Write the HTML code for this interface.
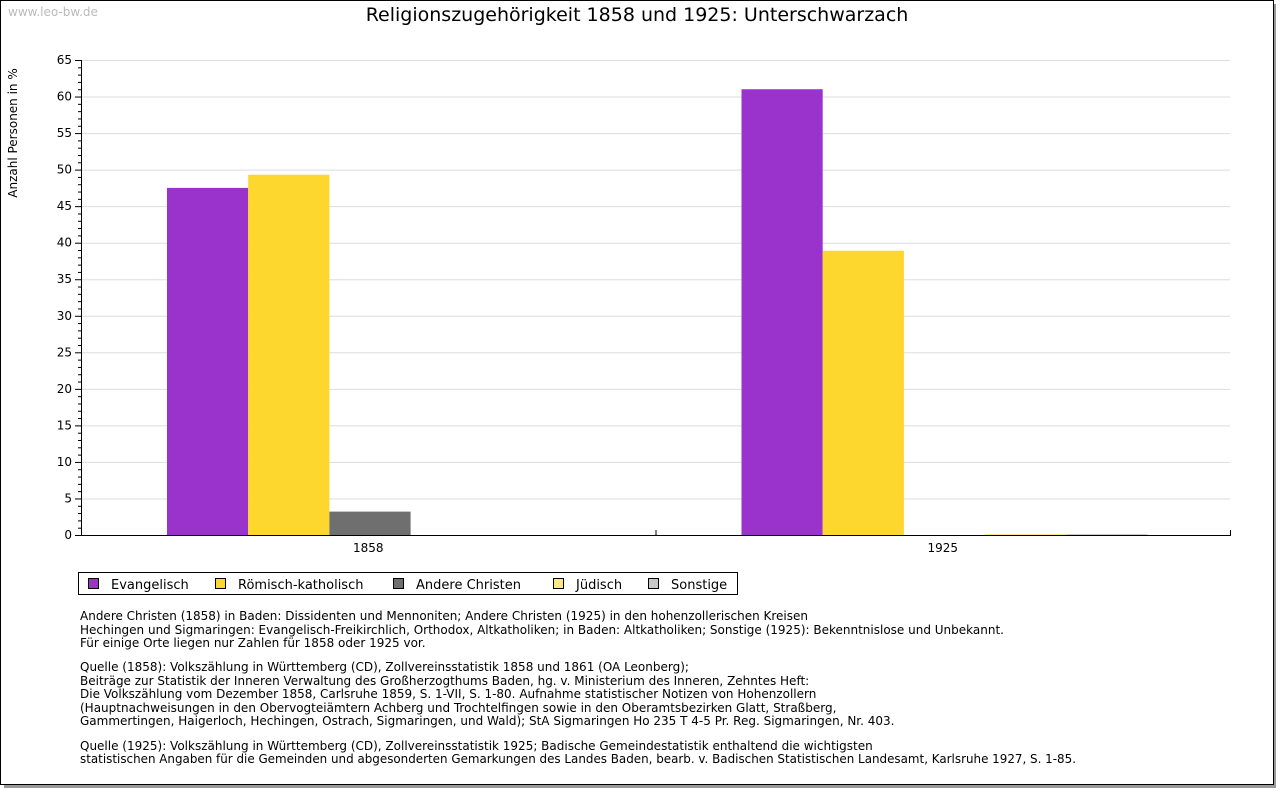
<!DOCTYPE html>
<html><head><meta charset="utf-8"><style>
body{margin:0;background:#fff;}
svg{display:block;font-family:"DejaVu Sans","Liberation Sans",sans-serif;}
</style></head><body>
<svg id="c" width="1280" height="791" xmlns="http://www.w3.org/2000/svg">
<rect x="4" y="4" width="1272" height="784" fill="#999"/>
<rect x="0.5" y="0.5" width="1273" height="784" fill="#fff" stroke="#000"/>
<text x="8" y="16" font-size="12" fill="#bbb">www.leo-bw.de</text>
<text x="637" y="21" font-size="19" text-anchor="middle" fill="#000">Religionszugehörigkeit 1858 und 1925: Unterschwarzach</text>
<text transform="translate(17,133) rotate(-90)" font-size="12" text-anchor="middle">Anzahl Personen in %</text>
<g id="grid"></g><g id="bars"></g><g id="axes"></g>
<g>
<rect x="78.5" y="572.5" width="659" height="22" fill="#fff" stroke="#000"/>
<g id="legend"></g>
</g>
<g font-size="12" fill="#000">
<text x="80" y="620">Andere Christen (1858) in Baden: Dissidenten und Mennoniten; Andere Christen (1925) in den hohenzollerischen Kreisen</text>
<text x="80" y="634">Hechingen und Sigmaringen: Evangelisch-Freikirchlich, Orthodox, Altkatholiken; in Baden: Altkatholiken; Sonstige (1925): Bekenntnislose und Unbekannt.</text>
<text x="80" y="647">Für einige Orte liegen nur Zahlen für 1858 oder 1925 vor.</text>
<text x="80" y="671">Quelle (1858): Volkszählung in Württemberg (CD), Zollvereinsstatistik 1858 und 1861 (OA Leonberg);</text>
<text x="80" y="685">Beiträge zur Statistik der Inneren Verwaltung des Großherzogthums Baden, hg. v. Ministerium des Inneren, Zehntes Heft:</text>
<text x="80" y="698">Die Volkszählung vom Dezember 1858, Carlsruhe 1859, S. 1-VII, S. 1-80. Aufnahme statistischer Notizen von Hohenzollern</text>
<text x="80" y="712">(Hauptnachweisungen in den Obervogteiämtern Achberg und Trochtelfingen sowie in den Oberamtsbezirken Glatt, Straßberg,</text>
<text x="80" y="725">Gammertingen, Haigerloch, Hechingen, Ostrach, Sigmaringen, und Wald); StA Sigmaringen Ho 235 T 4-5 Pr. Reg. Sigmaringen, Nr. 403.</text>
<text x="80" y="750">Quelle (1925): Volkszählung in Württemberg (CD), Zollvereinsstatistik 1925; Badische Gemeindestatistik enthaltend die wichtigsten</text>
<text x="80" y="763" textLength="996" lengthAdjust="spacingAndGlyphs">statistischen Angaben für die Gemeinden und abgesonderten Gemarkungen des Landes Baden, bearb. v. Badischen Statistischen Landesamt, Karlsruhe 1927, S. 1-85.</text>
</g>
</svg>
<script>
const categories=["1858","1925"];
const seriesNames=["Evangelisch","Römisch-katholisch","Andere Christen","Jüdisch","Sonstige"];
const evangelisch=[47.5,61.0];
const katholisch=[49.3,38.9];
const andereChristen=[3.2,0];
const juedisch=[0,0.1];
const sonstige=[0,0.1];
const yTicks=[0,5,10,15,20,25,30,35,40,45,50,55,60,65];
const colors=["#9933cc","#fdd62e","#6f6f6f","#fde68a","#c8c8c8"];
const series=[evangelisch,katholisch,andereChristen,juedisch,sonstige];
const NS="http://www.w3.org/2000/svg";
const X0=81,X1=1230,Y0=535,Y1=60,YMAX=65;
const y=v=>Y0-(v/YMAX)*(Y0-Y1);
const groupW=(X1-X0)/categories.length;
const barW=81.2;
const xBar=(c,s)=>X0+c*groupW+86+s*barW;
function mk(t,a,p){const e=document.createElementNS(NS,t);for(const k in a)e.setAttribute(k,a[k]);p.appendChild(e);return e;}
const grid=document.getElementById('grid'),axes=document.getElementById('axes'),bars=document.getElementById('bars'),leg=document.getElementById('legend');
yTicks.forEach(t=>{
 if(t>0){const l=mk('line',{x1:X0,x2:X1,y1:y(t)+.5,y2:y(t)+.5,stroke:'#ddd'},grid);
 
 }
 mk('line',{x1:X0-6,x2:X0,y1:y(t)+.5,y2:y(t)+.5,stroke:'#000'},axes);
 const tx=mk('text',{x:X0-9,y:y(t)+4,'font-size':12,'text-anchor':'end'},axes);tx.textContent=t;
 
 
});
for(let v=1;v<YMAX;v++){if(v%5)mk('line',{x1:X0-3,x2:X0,y1:y(v)+.5,y2:y(v)+.5,stroke:'#000'},axes);}
series.forEach((arr,s)=>arr.forEach((v,c)=>{
 const h=Math.max(y(0)-y(v),v>0?1:0);
 const r=mk('rect',{x:xBar(c,s),y:y(0)-h,width:barW,height:h,fill:colors[s]},bars);
 
 
}));
mk('line',{x1:X0+.5,x2:X0+.5,y1:Y1,y2:Y0,stroke:'#000'},axes);
mk('line',{x1:X0,x2:X1+1,y1:Y0+.5,y2:Y0+.5,stroke:'#000'},axes);
categories.forEach((c,i)=>{
 mk('line',{x1:X0+(i+1)*groupW+.5,x2:X0+(i+1)*groupW+.5,y1:Y0-5,y2:Y0,stroke:'#000'},axes);
 const t=mk('text',{x:X0+(i+.5)*groupW,y:Y0+17,'font-size':12,'text-anchor':'middle'},axes);t.textContent=c;
 
 
});
const legX=[88,215,393,553,648];
seriesNames.forEach((n,i)=>{
 const g=mk('g',{},leg);
 
 
 mk('rect',{x:legX[i]+.5,y:578.5,width:10,height:10,fill:colors[i],stroke:'#000'},g);
 const t=mk('text',{x:legX[i]+23,y:589,'font-size':13},g);t.textContent=n;
});
</script>
</body></html>
